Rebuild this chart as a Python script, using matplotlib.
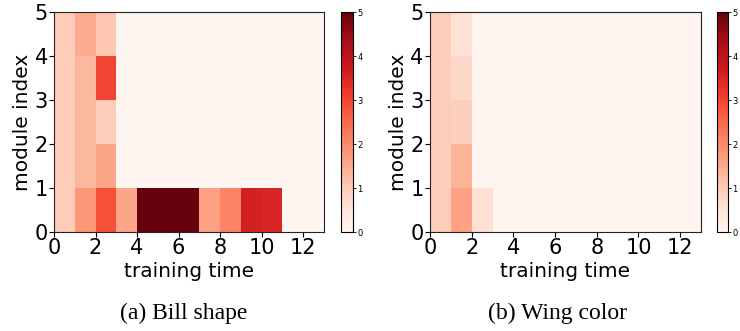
import numpy as np
import matplotlib
matplotlib.use("Agg")
import matplotlib.pyplot as plt

time_edges = list(range(0, 14))
module_edges = list(range(0, 6))
xticks = [0, 2, 4, 6, 8, 10, 12]
yticks = [0, 1, 2, 3, 4, 5]
cbar_ticks = [0, 1, 2, 3, 4, 5]

# rows: module index 0..4, columns: training time 0..12
bill_shape = [
    [0.95, 1.8, 2.85, 1.6, 5.0, 5.0, 5.0, 1.65, 2.1, 3.6, 3.5, 0, 0],
    [0.95, 1.3, 1.6, 0, 0, 0, 0, 0, 0, 0, 0, 0, 0],
    [0.95, 1.3, 0.95, 0, 0, 0, 0, 0, 0, 0, 0, 0, 0],
    [0.95, 1.3, 3.0, 0, 0, 0, 0, 0, 0, 0, 0, 0, 0],
    [0.95, 1.5, 1.05, 0, 0, 0, 0, 0, 0, 0, 0, 0, 0],
]
wing_color = [
    [0.95, 1.65, 0.6, 0, 0, 0, 0, 0, 0, 0, 0, 0, 0],
    [0.95, 1.35, 0, 0, 0, 0, 0, 0, 0, 0, 0, 0, 0],
    [0.95, 0.9, 0, 0, 0, 0, 0, 0, 0, 0, 0, 0, 0],
    [0.95, 0.75, 0, 0, 0, 0, 0, 0, 0, 0, 0, 0, 0],
    [0.95, 0.6, 0, 0, 0, 0, 0, 0, 0, 0, 0, 0, 0],
]
captions = ["(a) Bill shape", "(b) Wing color"]
xlabel = "training time"
ylabel = "module index"

W, H = 740, 331
fig = plt.figure(figsize=(W / 100, H / 100), dpi=100)

def fx(px):
    return px / W

def fy(py):
    return (H - py) / H

panels = [
    (bill_shape, 54, 324, 341, 353, 184),
    (wing_color, 430, 701, 717, 728, 557),
]

for (data, ax0, ax1, cb0, cb1, capx), cap in zip(panels, captions):
    top, bot = 12, 232
    ax = fig.add_axes([fx(ax0), fy(bot), fx(ax1 - ax0), (bot - top) / H])
    mesh = ax.pcolormesh(time_edges, module_edges, np.array(data), cmap="Reds",
                         vmin=0, vmax=5)
    ax.set_xlim(0, 13)
    ax.set_ylim(0, 5)
    ax.set_xticks(xticks)
    ax.set_yticks(yticks)
    ax.tick_params(labelsize=15, length=3.5, width=0.8, pad=1)
    ax.set_xlabel(xlabel, fontsize=14.5, labelpad=3)
    ax.set_ylabel(ylabel, fontsize=14.5, labelpad=2)
    for s in ax.spines.values():
        s.set_linewidth(0.8)
        s.set_color("#222222")
    cax = fig.add_axes([fx(cb0), fy(bot), fx(cb1 - cb0), (bot - top) / H])
    cb = fig.colorbar(mesh, cax=cax, ticks=cbar_ticks)
    cb.ax.tick_params(labelsize=6, length=2, width=0.6, pad=1)
    cb.outline.set_linewidth(0.8)
    fig.text(fx(capx), fy(313), cap, ha="center", va="center",
             fontsize=17, family="Liberation Serif")

fig.savefig("out.png", dpi=100)
